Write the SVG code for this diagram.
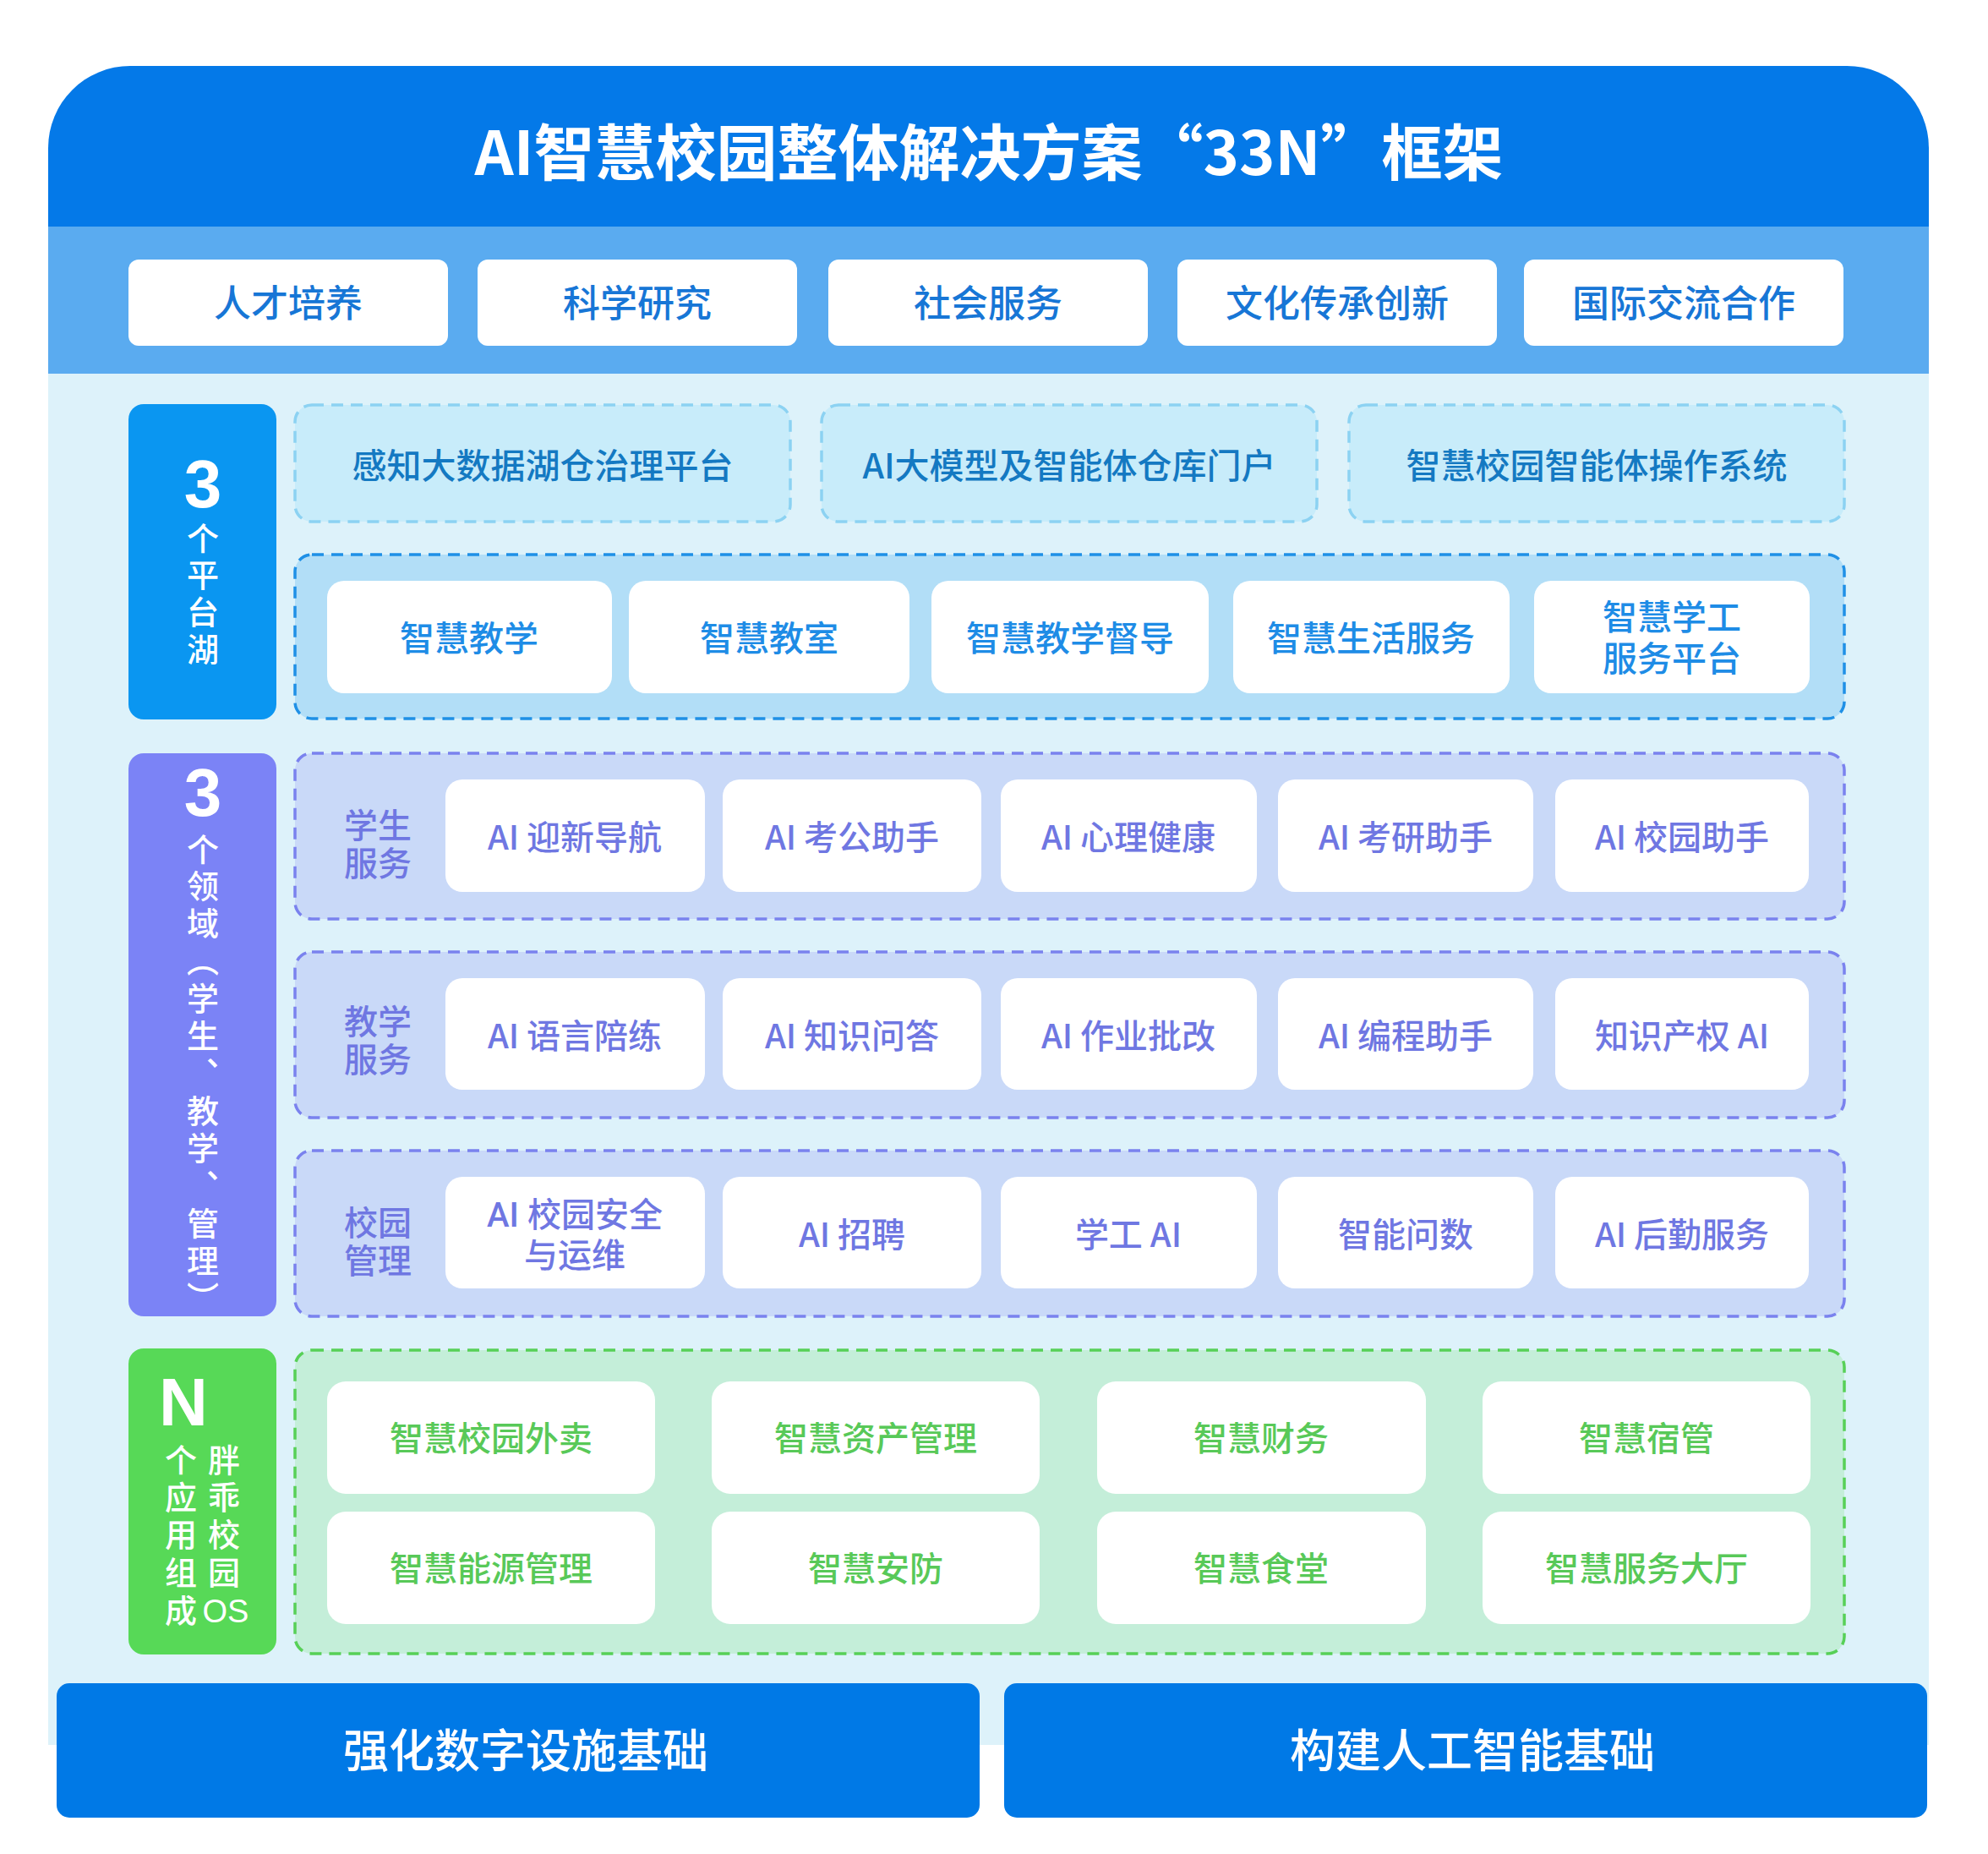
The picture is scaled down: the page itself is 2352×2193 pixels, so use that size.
<svg xmlns="http://www.w3.org/2000/svg" width="2352" height="2193" viewBox="0 0 2352 2193">
<style>
text{font-family:"Noto Sans CJK SC","Noto Sans",sans-serif;text-anchor:middle;dominant-baseline:central}
.title{font-size:72px;font-weight:700;fill:#ffffff}
.top{font-size:44px;font-weight:500;fill:#1776D6}
.white{fill:#ffffff}
.p1box{fill:#C8ECFA;stroke:#8CD2F2;stroke-width:3.5;stroke-dasharray:14 9}
.p1t{font-size:41px;font-weight:500;fill:#1479C2}
.p2box{fill:#B2DEF7;stroke:#1F90E6;stroke-width:3.5;stroke-dasharray:14 9}
.p2t{font-size:41px;font-weight:500;fill:#1E8CE6}
.dbox{fill:#C9D9F8;stroke:#7A82EE;stroke-width:3.5;stroke-dasharray:14 9}
.dt{font-size:40px;font-weight:500;fill:#6F77E2}
.nbox{fill:#C4EED9;stroke:#57D057;stroke-width:3.5;stroke-dasharray:14 9}
.nt{font-size:40px;font-weight:500;fill:#58C958}
.ml{font-family:"Liberation Sans","Noto Sans CJK SC",sans-serif;dominant-baseline:alphabetic}
.mr{font-family:"Roboto","Noto Sans CJK SC",sans-serif;dominant-baseline:alphabetic}
.vl{font-family:"Liberation Sans","Noto Sans CJK SC",sans-serif;font-size:38px;font-weight:500;fill:#ffffff;dominant-baseline:alphabetic}
.big{font-family:"Liberation Sans",sans-serif;font-size:80px;font-weight:700}
.bar{fill:#0079E6}
.bt{font-size:54px;font-weight:500;fill:#ffffff}
</style>

<g id="background">
<path d="M57,268 V175 A97,97 0 0 1 154,78 H2185 A97,97 0 0 1 2282,175 V268 Z" fill="#0479E8"/>
<rect x="57" y="268" width="2225" height="174" fill="#5AABF0"/>
<rect x="57" y="442" width="2225" height="1622" fill="#DDF2FA"/>
</g>

<g id="title"><text class="title" x="1170" y="175">AI智慧校园整体解决方案“33N”框架</text></g>

<g id="goals">
<g id="goal-1"><rect class="white" x="152" y="307" width="378" height="102" rx="12"/><text class="top" x="341" y="356">人才培养</text></g>
<g id="goal-2"><rect class="white" x="565" y="307" width="378" height="102" rx="12"/><text class="top" x="754" y="356">科学研究</text></g>
<g id="goal-3"><rect class="white" x="980" y="307" width="378" height="102" rx="12"/><text class="top" x="1169" y="356">社会服务</text></g>
<g id="goal-4"><rect class="white" x="1393" y="307" width="378" height="102" rx="12"/><text class="top" x="1582" y="356">文化传承创新</text></g>
<g id="goal-5"><rect class="white" x="1803" y="307" width="378" height="102" rx="12"/><text class="top" x="1992" y="356">国际交流合作</text></g>
</g>

<g id="label-platform">
<rect x="152" y="478" width="175" height="373" rx="18" fill="#0A96F1"/>
<text class="vl"><tspan class="big" x="240" y="600">3</tspan><tspan x="240" y="651">个</tspan><tspan x="240" y="694">平</tspan><tspan x="240" y="738">台</tspan><tspan x="240" y="782">湖</tspan></text>
</g>

<g id="platform-row1">
<g id="plat-1"><rect class="p1box" x="349" y="479" width="586" height="138" rx="20"/><text class="p1t" x="642" y="548">感知大数据湖仓治理平台</text></g>
<g id="plat-2"><rect class="p1box" x="972" y="479" width="586" height="138" rx="20"/><text class="p1t" x="1265" y="548">AI大模型及智能体仓库门户</text></g>
<g id="plat-3"><rect class="p1box" x="1596" y="479" width="586" height="138" rx="20"/><text class="p1t" x="1889" y="548">智慧校园智能体操作系统</text></g>
</g>

<g id="platform-row2">
<rect class="p2box" x="349" y="656" width="1833" height="194" rx="20"/>
<g id="app-1"><rect class="white" x="387" y="687" width="337" height="133" rx="20"/><text class="p2t" x="555" y="752">智慧教学</text></g>
<g id="app-2"><rect class="white" x="744" y="687" width="332" height="133" rx="20"/><text class="p2t" x="910" y="752">智慧教室</text></g>
<g id="app-3"><rect class="white" x="1102" y="687" width="328" height="133" rx="20"/><text class="p2t" x="1266" y="752">智慧教学督导</text></g>
<g id="app-4"><rect class="white" x="1459" y="687" width="327" height="133" rx="20"/><text class="p2t" x="1622" y="752">智慧生活服务</text></g>
<g id="app-5"><rect class="white" x="1815" y="687" width="326" height="133" rx="20"/><text class="p2t ml"><tspan x="1978" y="745">智慧学工</tspan><tspan x="1978" y="794">服务平台</tspan></text></g>
</g>

<g id="label-domain">
<rect x="152" y="891" width="175" height="666" rx="18" fill="#7B83F6"/>
<text class="vl"><tspan class="big" x="240" y="965">3</tspan><tspan x="240" y="1019">个</tspan><tspan x="240" y="1062">领</tspan><tspan x="240" y="1106">域</tspan><tspan x="240" y="1150">︵</tspan><tspan x="240" y="1195">学</tspan><tspan x="240" y="1239">生</tspan><tspan x="240" y="1283">︑</tspan><tspan x="240" y="1328">教</tspan><tspan x="240" y="1372">学</tspan><tspan x="240" y="1416">︑</tspan><tspan x="240" y="1461">管</tspan><tspan x="240" y="1505">理</tspan><tspan x="240" y="1549">︶</tspan></text>
</g>

<g id="domain-student">
<rect class="dbox" x="349" y="891" width="1833" height="196" rx="20"/>
<text class="dt ml"><tspan x="447" y="991">学生</tspan><tspan x="447" y="1036">服务</tspan></text>
<g id="ds-1"><rect class="white" x="527" y="922" width="307" height="133" rx="20"/><text class="dt" x="680" y="988">AI 迎新导航</text></g>
<g id="ds-2"><rect class="white" x="855" y="922" width="306" height="133" rx="20"/><text class="dt" x="1008" y="988">AI 考公助手</text></g>
<g id="ds-3"><rect class="white" x="1184" y="922" width="303" height="133" rx="20"/><text class="dt" x="1335" y="988">AI 心理健康</text></g>
<g id="ds-4"><rect class="white" x="1512" y="922" width="302" height="133" rx="20"/><text class="dt" x="1663" y="988">AI 考研助手</text></g>
<g id="ds-5"><rect class="white" x="1840" y="922" width="300" height="133" rx="20"/><text class="dt" x="1990" y="988">AI 校园助手</text></g>
</g>

<g id="domain-teaching">
<rect class="dbox" x="349" y="1126" width="1833" height="196" rx="20"/>
<text class="dt ml"><tspan x="447" y="1223">教学</tspan><tspan x="447" y="1268">服务</tspan></text>
<g id="dt-1"><rect class="white" x="527" y="1157" width="307" height="132" rx="20"/><text class="dt" x="680" y="1223">AI 语言陪练</text></g>
<g id="dt-2"><rect class="white" x="855" y="1157" width="306" height="132" rx="20"/><text class="dt" x="1008" y="1223">AI 知识问答</text></g>
<g id="dt-3"><rect class="white" x="1184" y="1157" width="303" height="132" rx="20"/><text class="dt" x="1335" y="1223">AI 作业批改</text></g>
<g id="dt-4"><rect class="white" x="1512" y="1157" width="302" height="132" rx="20"/><text class="dt" x="1663" y="1223">AI 编程助手</text></g>
<g id="dt-5"><rect class="white" x="1840" y="1157" width="300" height="132" rx="20"/><text class="dt" x="1990" y="1223">知识产权 AI</text></g>
</g>

<g id="domain-management">
<rect class="dbox" x="349" y="1361" width="1833" height="196" rx="20"/>
<text class="dt ml"><tspan x="447" y="1461">校园</tspan><tspan x="447" y="1506">管理</tspan></text>
<g id="dm-1"><rect class="white" x="527" y="1392" width="307" height="132" rx="20"/><text class="dt mr"><tspan x="680" y="1451">AI 校园安全</tspan><tspan x="680" y="1499">与运维</tspan></text></g>
<g id="dm-2"><rect class="white" x="855" y="1392" width="306" height="132" rx="20"/><text class="dt" x="1008" y="1458">AI 招聘</text></g>
<g id="dm-3"><rect class="white" x="1184" y="1392" width="303" height="132" rx="20"/><text class="dt" x="1335" y="1458">学工 AI</text></g>
<g id="dm-4"><rect class="white" x="1512" y="1392" width="302" height="132" rx="20"/><text class="dt" x="1663" y="1458">智能问数</text></g>
<g id="dm-5"><rect class="white" x="1840" y="1392" width="300" height="132" rx="20"/><text class="dt" x="1990" y="1458">AI 后勤服务</text></g>
</g>

<g id="label-n">
<rect x="152" y="1595" width="175" height="362" rx="18" fill="#57D957"/>
<text class="vl"><tspan class="big" x="217" y="1686">N</tspan><tspan x="214" y="1741">个</tspan><tspan x="214" y="1785">应</tspan><tspan x="214" y="1829">用</tspan><tspan x="214" y="1874">组</tspan><tspan x="214" y="1919">成</tspan><tspan x="265" y="1741">胖</tspan><tspan x="265" y="1785">乖</tspan><tspan x="265" y="1829">校</tspan><tspan x="265" y="1874">园</tspan><tspan x="267" y="1919">OS</tspan></text>
</g>

<g id="n-apps">
<rect class="nbox" x="349" y="1597" width="1833" height="359" rx="20"/>
<g id="n-1"><rect class="white" x="387" y="1634" width="388" height="133" rx="22"/><text class="nt" x="581" y="1699">智慧校园外卖</text></g>
<g id="n-2"><rect class="white" x="842" y="1634" width="388" height="133" rx="22"/><text class="nt" x="1036" y="1699">智慧资产管理</text></g>
<g id="n-3"><rect class="white" x="1298" y="1634" width="389" height="133" rx="22"/><text class="nt" x="1492" y="1699">智慧财务</text></g>
<g id="n-4"><rect class="white" x="1754" y="1634" width="388" height="133" rx="22"/><text class="nt" x="1948" y="1699">智慧宿管</text></g>
<g id="n-5"><rect class="white" x="387" y="1788" width="388" height="133" rx="22"/><text class="nt" x="581" y="1853">智慧能源管理</text></g>
<g id="n-6"><rect class="white" x="842" y="1788" width="388" height="133" rx="22"/><text class="nt" x="1036" y="1853">智慧安防</text></g>
<g id="n-7"><rect class="white" x="1298" y="1788" width="389" height="133" rx="22"/><text class="nt" x="1492" y="1853">智慧食堂</text></g>
<g id="n-8"><rect class="white" x="1754" y="1788" width="388" height="133" rx="22"/><text class="nt" x="1948" y="1853">智慧服务大厅</text></g>
</g>

<g id="foundation-digital"><rect class="bar" x="67" y="1991" width="1092" height="159" rx="15"/><text class="bt" x="622" y="2067">强化数字设施基础</text></g>
<g id="foundation-ai"><rect class="bar" x="1188" y="1991" width="1092" height="159" rx="15"/><text class="bt" x="1742" y="2067">构建人工智能基础</text></g>

<g id="connectors"></g>
</svg>
